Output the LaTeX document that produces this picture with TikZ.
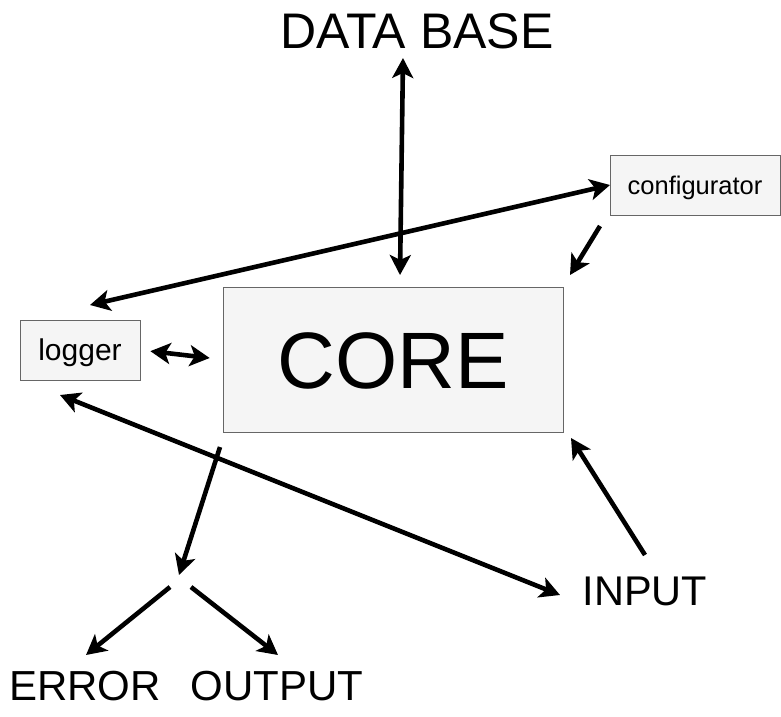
\documentclass[tikz,border=0pt]{standalone}
\usepackage{fontspec}
\setmainfont{Liberation Sans}
\usetikzlibrary{arrows.meta,positioning}

\begin{document}
\begin{tikzpicture}[x=1pt,y=-1pt,>={Stealth[length=20pt,width=21pt,inset=5pt]},
    line width=4.6pt,
    box/.style={draw=black!60,line width=0.8pt,fill=black!4,inner sep=0pt},
    label/.style={inner sep=0pt,anchor=center}]
  \useasboundingbox (0,0) rectangle (781,716);

  % boxes
  \node[box,minimum width=340pt,minimum height=145pt] (core) at (393,359.5) {\raisebox{-1pt}[\height][\depth]{\fontsize{80}{80}\selectfont CORE}};
  \node[box,minimum width=120pt,minimum height=60pt] (logger) at (80,350) {\raisebox{-3pt}[\height][\depth]{\fontsize{30}{30}\selectfont logger}};
  \node[box,minimum width=170pt,minimum height=60pt] (conf) at (695,185) {\raisebox{-3pt}[\height][\depth]{\fontsize{25.5}{25.5}\selectfont configurator}};

  % plain texts
  \node[label] (db) at (417,31) {\fontsize{50}{50}\selectfont DATA BASE};
  \node[label] (input) at (645,591) {\fontsize{41.5}{41.5}\selectfont INPUT};
  \node[label] (error) at (85,686) {\fontsize{42}{42}\selectfont ERROR};
  \node[label] (output) at (277,686) {\fontsize{42}{42}\selectfont OUTPUT};

  % ends of the connectors
  \coordinate (db s) at (403,58);
  \coordinate (core n) at (400,275);
  \coordinate (conf w) at (610,185);
  \coordinate (logger n) at (90,305);
  \coordinate (conf sw) at (600,226);
  \coordinate (core ne) at (570,275);
  \coordinate (input w) at (560,595);
  \coordinate (logger s) at (60,395);
  \coordinate (input n) at (645,555);
  \coordinate (core se) at (571,438);
  \coordinate (core sw) at (220,447);
  \coordinate (split) at (179,575);
  \coordinate (split l) at (170,587);
  \coordinate (split r) at (191,587);
  \coordinate (error n) at (86,655);
  \coordinate (output n) at (278,655);

  \draw[<->] (db s) -- (core n);
  \draw[<->] (conf w) -- (logger n);
  \draw[->] (conf sw) -- (core ne);
  \draw[<->,shorten <=10pt,shorten >=13pt] (logger.east) -- (core.west);
  \draw[<->] (input w) -- (logger s);
  \draw[->] (input n) -- (core se);
  \draw[->] (core sw) -- (split);
  \draw[->] (split l) -- (error n);
  \draw[->] (split r) -- (output n);

\end{tikzpicture}
\end{document}
